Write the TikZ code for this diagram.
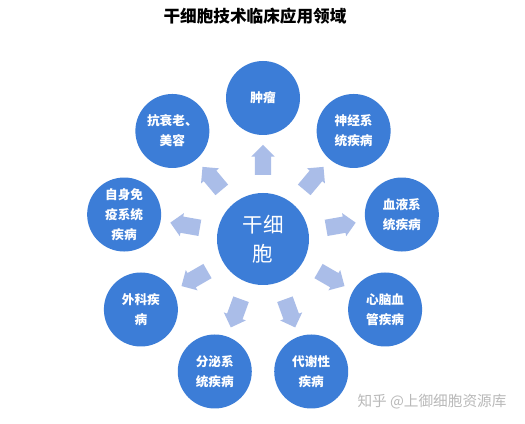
\documentclass[tikz,border=0pt]{standalone}
\usepackage{fontspec}
\setmainfont{Noto Sans CJK SC}
\usepackage{tikz}
\usetikzlibrary{shapes.arrows}
\definecolor{ballblue}{RGB}{60,125,215}
\definecolor{arrowblue}{RGB}{170,189,232}
\definecolor{markgray}{RGB}{185,185,185}
\tikzset{leaf/.style={circle,fill=ballblue,text=white,minimum size=2.22cm,inner sep=0pt,align=center,
    font=\fontsize{10.8}{17}\selectfont\bfseries}}
\tikzset{core/.style={circle,fill=ballblue,text=white,minimum size=2.76cm,inner sep=0pt,align=center,
    font=\fontsize{17.5}{24.5}\selectfont}}
\tikzset{blk/.style={single arrow,fill=arrowblue,inner sep=0.24cm,single arrow head extend=0.105cm,
    minimum height=0.9cm}}

\begin{document}
\begin{tikzpicture}[x=0.03cm,y=0.03cm]
\fill[white] (0,0) rectangle (525,424);
\useasboundingbox (0,0) rectangle (525,424);
		\node[font=\fontsize{14.2}{16}\selectfont\bfseries] (title) at (255,408) {干细胞技术临床应用领域};
		
		\node[core] (stem) at (263,185) {干细\\胞};
		
		\node[leaf] (tumor) at ([shift={(90:141)}]stem) {肿瘤};
		\node[leaf] (nerve) at ([shift={(50:141)}]stem) {神经系\\统疾病};
		\node[leaf] (blood) at ([shift={(10:141)}]stem) {血液系\\统疾病};
		\node[leaf] (heart) at ([shift={(-30:141)}]stem) {心脑血\\管疾病};
		\node[leaf] (meta) at ([shift={(-70:141)}]stem) {代谢性\\疾病};
		\node[leaf] (gland) at ([shift={(-110:141)}]stem) {分泌系\\统疾病};
		\node[leaf] (surg) at ([shift={(-150:141)}]stem) {外科疾\\病};
		\node[leaf] (immune) at ([shift={(170:141)}]stem) {自身免\\疫系统\\疾病};
		\node[leaf] (aging) at ([shift={(130:141)}]stem) {抗衰老、\\美容};
		
		\node[blk,rotate=90] (a1) at ([shift={(90:75)}]stem) {};
		\node[blk,rotate=50] (a2) at ([shift={(50:75)}]stem) {};
		\node[blk,rotate=10] (a3) at ([shift={(10:75)}]stem) {};
		\node[blk,rotate=-30] (a4) at ([shift={(-30:75)}]stem) {};
		\node[blk,rotate=-70] (a5) at ([shift={(-70:75)}]stem) {};
		\node[blk,rotate=-110] (a6) at ([shift={(-110:75)}]stem) {};
		\node[blk,rotate=-150] (a7) at ([shift={(-150:75)}]stem) {};
		\node[blk,rotate=170] (a8) at ([shift={(170:75)}]stem) {};
		\node[blk,rotate=130] (a9) at ([shift={(130:75)}]stem) {};
		
		\node[markgray,font=\fontsize{12.5}{14}\selectfont] (mark) at (432,22) {知乎 @上御细胞资源库};
\end{tikzpicture}
\end{document}
